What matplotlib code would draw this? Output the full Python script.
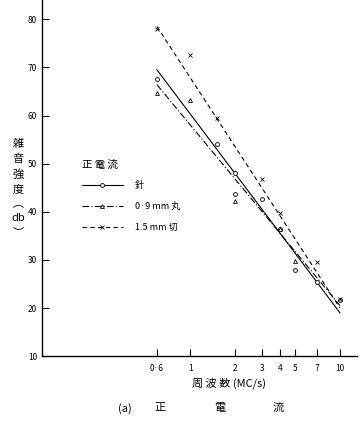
import numpy as np
import matplotlib
matplotlib.use("Agg")
import matplotlib.pyplot as plt

plt.rcParams['font.family'] = ['Noto Sans CJK JP', 'DejaVu Sans']

# 周波数 (MC/s) と 雑音強度 (db)
needle_f = [0.6, 1.5, 2, 2, 3, 4, 5, 7, 10]
needle_db = [67.6, 54.0, 48.0, 43.6, 42.6, 36.4, 28.0, 25.5, 21.7]
ball_f = [0.6, 1, 2, 4, 5]
ball_db = [64.7, 63.2, 42.2, 36.4, 29.8]
cut_f = [0.6, 1, 1.5, 3, 4, 7, 10]
cut_db = [78.0, 72.6, 59.5, 46.8, 39.8, 29.5, 21.8]

# 直線 (両端)
fit_f = [0.6, 10]
needle_fit = [69.5, 19.0]
ball_fit = [66.4, 20.5]
cut_fit = [78.5, 20.0]

xticks = [0.6, 1, 2, 3, 4, 5, 7, 10]
xticklabels = ['0·6', '1', '2', '3', '4', '5', '7', '10']
yticks = [10, 20, 30, 40, 50, 60, 70, 80]

fig = plt.figure(figsize=(3.63, 4.23), dpi=100)
ax = fig.add_axes([0.1157, 0.158, 0.868, 0.842])

ax.plot(fit_f, needle_fit, color='black', lw=0.8, ls='-')
ax.plot(fit_f, ball_fit, color='black', lw=0.8, ls=(0, (6, 2, 1, 2)))
ax.plot(fit_f, cut_fit, color='black', lw=0.8, ls=(0, (4, 3)))

ax.plot(needle_f, needle_db, ls='none', marker='o', ms=2.8, mfc='white', mec='black', mew=0.6)
ax.plot(ball_f, ball_db, ls='none', marker='^', ms=2.8, mfc='white', mec='black', mew=0.6)
ax.plot(cut_f, cut_db, ls='none', marker='x', ms=3, mec='black', mew=0.6)

# 凡例
h1, = ax.plot([], [], color='black', lw=0.8, ls='-', marker='o', ms=2.8, mfc='white', mec='black', mew=0.6)
h2, = ax.plot([], [], color='black', lw=0.8, ls=(0, (6, 2, 1, 2)), marker='^', ms=2.8, mfc='white', mec='black', mew=0.6)
h3, = ax.plot([], [], color='black', lw=0.8, ls=(0, (4, 3)), marker='x', ms=3, mec='black', mew=0.6)
leg = ax.legend([h1, h2, h3], ['針', '0·9 mm 丸', '1.5 mm 切'], title='正 電 流',
                loc='upper left', bbox_to_anchor=(0.1, 0.575), frameon=False,
                fontsize=6.5, title_fontsize=7.5, handlelength=4.6, numpoints=1,
                labelspacing=1.3, handletextpad=1.3, alignment='left')

ax.set_xscale('log')
ax.set_xlim(0.1026, 13.0)
ax.set_ylim(10, 84)
ax.set_xticks(xticks)
ax.set_xticklabels(xticklabels)
ax.xaxis.set_minor_locator(plt.NullLocator())
ax.set_yticks(yticks)
ax.tick_params(direction='in', length=5, width=0.8, labelsize=6)
ax.tick_params(axis='x', pad=6)

for s in ['top', 'right']:
    ax.spines[s].set_visible(False)
for s in ['left', 'bottom']:
    ax.spines[s].set_linewidth(1.0)

fig.text(0.05, 0.555, '雑\n音\n強\n度\n︵\ndb\n︶', ha='center', va='center',
         fontsize=8, linespacing=1.55)
fig.text(0.63, 0.095, '周 波 数 (MC/s)', ha='center', va='center', fontsize=8)
for xf, s in zip([0.344, 0.441, 0.606, 0.766], ['(a)', '正', '電', '流']):
    fig.text(xf, 0.035, s, ha='center', va='center', fontsize=8)

fig.savefig('out.png', dpi=100)
